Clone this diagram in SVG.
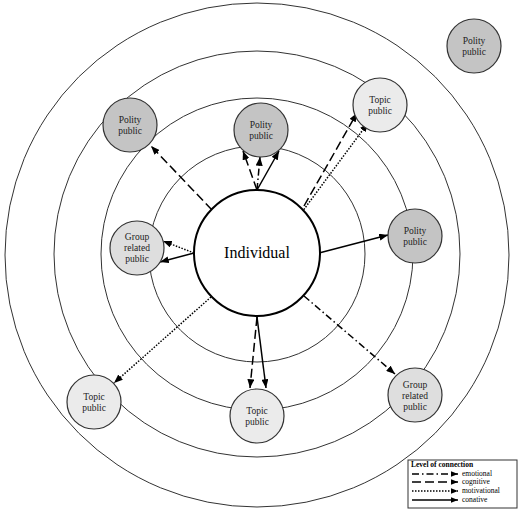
<svg xmlns="http://www.w3.org/2000/svg" width="520" height="516" viewBox="0 0 520 516">
<defs>
<marker id="ah" viewBox="0 0 10 8" refX="10" refY="4" markerWidth="9" markerHeight="7" markerUnits="userSpaceOnUse" orient="auto">
<path d="M0,0 L10,4 L0,8 z" fill="#000"/>
</marker>
<marker id="ahs" viewBox="0 0 10 8" refX="10" refY="4" markerWidth="7" markerHeight="6" markerUnits="userSpaceOnUse" orient="auto">
<path d="M0,0 L10,4 L0,8 z" fill="#000"/>
</marker>
</defs>
<style>
.ring{fill:none;stroke:#333;stroke-width:1}
.ind{fill:#fff;stroke:#000;stroke-width:2}
.node{stroke:#333;stroke-width:1.2}
.polity{fill:#c4c4c4}
.topic{fill:#ebebeb}
.group{fill:#dedede}
.lbl{font-family:"Liberation Serif",serif;font-size:9.5px;fill:#222;text-anchor:middle}
.big{font-family:"Liberation Serif",serif;font-size:16px;fill:#000;text-anchor:middle}
.c{fill:none;stroke:#000;stroke-width:1.5}
.emo{stroke-dasharray:7,3,1.5,3}
.cog{stroke-dasharray:9,4}
.mot{stroke-dasharray:1.5,1.5}
.leg{font-family:"Liberation Serif",serif;font-size:7.5px;fill:#000}
</style>
<rect width="520" height="516" fill="#fff"/>
<g id="rings">
<circle class="ring" cx="257" cy="255" r="252"/>
<circle class="ring" cx="257" cy="254" r="203"/>
<circle class="ring" cx="257" cy="254" r="156"/>
<circle class="ring" cx="257" cy="254" r="108"/>
</g>
<g id="connectors">
<line class="c cog" x1="212" y1="210" x2="151" y2="146" marker-end="url(#ah)"/>
<line class="c cog" x1="257" y1="190" x2="243" y2="151" marker-end="url(#ah)"/>
<line class="c emo" x1="257" y1="190" x2="260" y2="157" marker-end="url(#ah)"/>
<line class="c" x1="257" y1="190" x2="279" y2="151" marker-end="url(#ah)"/>
<line class="c cog" x1="304" y1="206" x2="357" y2="113" marker-end="url(#ah)"/>
<line class="c mot" x1="302" y1="212" x2="368" y2="123" marker-end="url(#ah)"/>
<line class="c mot" x1="194" y1="253" x2="163" y2="241" marker-end="url(#ah)"/>
<line class="c" x1="194" y1="253" x2="160" y2="262" marker-end="url(#ah)"/>
<line class="c" x1="319" y1="253" x2="388" y2="235" marker-end="url(#ah)"/>
<line class="c cog" x1="257" y1="317" x2="250" y2="388" marker-end="url(#ah)"/>
<line class="c" x1="257" y1="317" x2="266" y2="388" marker-end="url(#ah)"/>
<line class="c mot" x1="211" y1="297" x2="114" y2="383" marker-end="url(#ah)"/>
<line class="c emo" x1="304" y1="296" x2="395" y2="374" marker-end="url(#ah)"/>
</g>
<g id="individual">
<circle class="ind" cx="257" cy="253" r="63"/>
<text class="big" x="257" y="258">Individual</text>
</g>
<g id="polity-topright">
<circle class="node polity" cx="474" cy="46" r="27"/>
<text class="lbl" x="474" y="44">Polity</text>
<text class="lbl" x="474" y="55">public</text>
</g>
<g id="polity-top">
<circle class="node polity" cx="261" cy="130" r="27"/>
<text class="lbl" x="261" y="128">Polity</text>
<text class="lbl" x="261" y="139">public</text>
</g>
<g id="polity-topleft">
<circle class="node polity" cx="130" cy="125" r="27"/>
<text class="lbl" x="130" y="123">Polity</text>
<text class="lbl" x="130" y="134">public</text>
</g>
<g id="topic-topright">
<circle class="node topic" cx="380" cy="105" r="27"/>
<text class="lbl" x="380" y="103">Topic</text>
<text class="lbl" x="380" y="114">public</text>
</g>
<g id="group-left">
<circle class="node group" cx="137" cy="248" r="27"/>
<text class="lbl" x="137" y="240">Group</text>
<text class="lbl" x="137" y="251">related</text>
<text class="lbl" x="137" y="262">public</text>
</g>
<g id="polity-right">
<circle class="node polity" cx="415" cy="236" r="27"/>
<text class="lbl" x="415" y="234">Polity</text>
<text class="lbl" x="415" y="245">public</text>
</g>
<g id="topic-bottom">
<circle class="node topic" cx="257" cy="416" r="27"/>
<text class="lbl" x="257" y="414">Topic</text>
<text class="lbl" x="257" y="425">public</text>
</g>
<g id="topic-bottomleft">
<circle class="node topic" cx="94" cy="402" r="27"/>
<text class="lbl" x="94" y="400">Topic</text>
<text class="lbl" x="94" y="411">public</text>
</g>
<g id="group-bottomright">
<circle class="node group" cx="415" cy="395" r="27"/>
<text class="lbl" x="415" y="388">Group</text>
<text class="lbl" x="415" y="399">related</text>
<text class="lbl" x="415" y="410">public</text>
</g>
<g id="legend">
<rect x="408" y="460" width="109" height="48" fill="#fff" stroke="#333" stroke-width="1"/>
<text class="leg" x="411" y="467" font-weight="bold">Level of connection</text>
<line class="c emo" x1="412" y1="474" x2="458" y2="474" marker-end="url(#ahs)"/>
<text class="leg" x="462" y="476">emotional</text>
<line class="c cog" x1="412" y1="482" x2="458" y2="482" marker-end="url(#ahs)"/>
<text class="leg" x="462" y="484">cognitive</text>
<line class="c mot" x1="412" y1="491" x2="458" y2="491" marker-end="url(#ahs)"/>
<text class="leg" x="462" y="493">motivational</text>
<line class="c" x1="412" y1="500" x2="458" y2="500" marker-end="url(#ahs)"/>
<text class="leg" x="462" y="502">conative</text>
</g>
</svg>
